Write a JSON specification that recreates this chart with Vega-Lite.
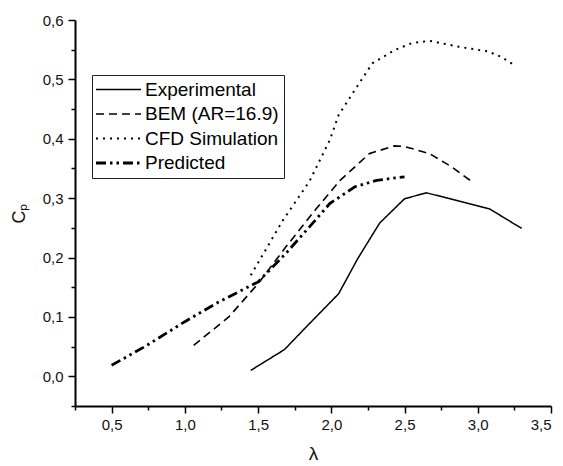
{
  "$schema": "https://vega.github.io/schema/vega-lite/v6.json",
  "width": 476,
  "height": 386,
  "autosize": {"type": "none"},
  "padding": {"left": 75, "top": 20, "right": 12, "bottom": 60},
  "background": "white",
  "config": {
    "view": {"stroke": null},
    "font": "Liberation Sans",
    "legend": {
      "orient": "none",
      "legendX": 17,
      "legendY": 55,
      "symbolType": "M-4.5,0H4.5",
      "symbolSize": 100,
      "symbolOffset": 12,
      "symbolStrokeColor": "black",
      "symbolFillColor": "transparent",
      "labelFontSize": 19,
      "labelFont": "Liberation Sans",
      "labelColor": "black",
      "strokeColor": "#222",
      "padding": 5,
      "rowPadding": 4.5,
      "labelOffset": 17,
      "labelLimit": 300
    }
  },
  "data": {
    "values": [
      {"series": "Experimental", "lambda": 1.45, "cp": 0.010},
      {"series": "Experimental", "lambda": 1.68, "cp": 0.045},
      {"series": "Experimental", "lambda": 1.84, "cp": 0.086},
      {"series": "Experimental", "lambda": 2.05, "cp": 0.139},
      {"series": "Experimental", "lambda": 2.18, "cp": 0.198},
      {"series": "Experimental", "lambda": 2.33, "cp": 0.258},
      {"series": "Experimental", "lambda": 2.50, "cp": 0.299},
      {"series": "Experimental", "lambda": 2.65, "cp": 0.309},
      {"series": "Experimental", "lambda": 3.08, "cp": 0.282},
      {"series": "Experimental", "lambda": 3.30, "cp": 0.249},
      {"series": "BEM (AR=16.9)", "lambda": 1.06, "cp": 0.052},
      {"series": "BEM (AR=16.9)", "lambda": 1.30, "cp": 0.100},
      {"series": "BEM (AR=16.9)", "lambda": 1.50, "cp": 0.156},
      {"series": "BEM (AR=16.9)", "lambda": 1.69, "cp": 0.218},
      {"series": "BEM (AR=16.9)", "lambda": 1.89, "cp": 0.280},
      {"series": "BEM (AR=16.9)", "lambda": 2.06, "cp": 0.330},
      {"series": "BEM (AR=16.9)", "lambda": 2.26, "cp": 0.375},
      {"series": "BEM (AR=16.9)", "lambda": 2.43, "cp": 0.388},
      {"series": "BEM (AR=16.9)", "lambda": 2.50, "cp": 0.387},
      {"series": "BEM (AR=16.9)", "lambda": 2.67, "cp": 0.375},
      {"series": "BEM (AR=16.9)", "lambda": 2.82, "cp": 0.353},
      {"series": "BEM (AR=16.9)", "lambda": 2.97, "cp": 0.326},
      {"series": "CFD Simulation", "lambda": 1.45, "cp": 0.170},
      {"series": "CFD Simulation", "lambda": 1.67, "cp": 0.263},
      {"series": "CFD Simulation", "lambda": 1.85, "cp": 0.328},
      {"series": "CFD Simulation", "lambda": 1.99, "cp": 0.398},
      {"series": "CFD Simulation", "lambda": 2.05, "cp": 0.440},
      {"series": "CFD Simulation", "lambda": 2.16, "cp": 0.482},
      {"series": "CFD Simulation", "lambda": 2.28, "cp": 0.527},
      {"series": "CFD Simulation", "lambda": 2.43, "cp": 0.549},
      {"series": "CFD Simulation", "lambda": 2.55, "cp": 0.561},
      {"series": "CFD Simulation", "lambda": 2.67, "cp": 0.565},
      {"series": "CFD Simulation", "lambda": 2.87, "cp": 0.555},
      {"series": "CFD Simulation", "lambda": 3.07, "cp": 0.547},
      {"series": "CFD Simulation", "lambda": 3.16, "cp": 0.538},
      {"series": "CFD Simulation", "lambda": 3.25, "cp": 0.524},
      {"series": "Predicted", "lambda": 0.50, "cp": 0.0185},
      {"series": "Predicted", "lambda": 0.74, "cp": 0.052},
      {"series": "Predicted", "lambda": 1.00, "cp": 0.092},
      {"series": "Predicted", "lambda": 1.23, "cp": 0.125},
      {"series": "Predicted", "lambda": 1.50, "cp": 0.159},
      {"series": "Predicted", "lambda": 1.69, "cp": 0.207},
      {"series": "Predicted", "lambda": 1.87, "cp": 0.257},
      {"series": "Predicted", "lambda": 1.99, "cp": 0.291},
      {"series": "Predicted", "lambda": 2.16, "cp": 0.319},
      {"series": "Predicted", "lambda": 2.31, "cp": 0.330},
      {"series": "Predicted", "lambda": 2.50, "cp": 0.336}
    ]
  },
  "mark": {"type": "line", "color": "black", "strokeCap": "butt", "strokeJoin": "round"},
  "encoding": {
    "x": {
      "field": "lambda",
      "type": "quantitative",
      "scale": {"domain": [0.25, 3.5], "nice": false, "zero": false},
      "axis": {
        "values": [0.25, 0.5, 0.75, 1.0, 1.25, 1.5, 1.75, 2.0, 2.25, 2.5, 2.75, 3.0, 3.25, 3.5],
        "labelExpr": "abs(datum.value*2 - round(datum.value*2)) > 0.01 ? '' : replace(format(datum.value, '.1f'), '.', ',')",
        "tickSize": {"condition": {"test": "abs(datum.value*2 - round(datum.value*2)) > 0.01", "value": 4}, "value": 7},
        "grid": false,
        "labelOverlap": false,
        "domainColor": "black",
        "domainWidth": 2,
        "tickColor": "black",
        "tickWidth": 1.5,
        "labelFontSize": 15,
        "labelColor": "#111",
        "labelPadding": 4,
        "title": "λ",
        "titleFontSize": 19,
        "titleFontWeight": "normal",
        "titleColor": "#111",
        "titlePadding": 12
      }
    },
    "y": {
      "field": "cp",
      "type": "quantitative",
      "scale": {"domain": [-0.05, 0.6], "nice": false, "zero": false},
      "axis": {
        "values": [-0.05, 0, 0.05, 0.1, 0.15, 0.2, 0.25, 0.3, 0.35, 0.4, 0.45, 0.5, 0.55, 0.6],
        "labelExpr": "abs(datum.value*10 - round(datum.value*10)) > 0.01 ? '' : replace(format(datum.value, '.1f'), '.', ',')",
        "tickSize": {"condition": {"test": "abs(datum.value*10 - round(datum.value*10)) > 0.01", "value": 4}, "value": 7},
        "grid": false,
        "labelOverlap": false,
        "domainColor": "black",
        "domainWidth": 2,
        "tickColor": "black",
        "tickWidth": 1.5,
        "labelFontSize": 15,
        "labelColor": "#111",
        "labelPadding": 5,
        "title": "Cₚ",
        "titleFontSize": 18,
        "titleFontWeight": "normal",
        "titleColor": "#111",
        "titlePadding": 14
      }
    },
    "strokeDash": {
      "field": "series",
      "type": "nominal",
      "scale": {
        "domain": ["Experimental", "BEM (AR=16.9)", "CFD Simulation", "Predicted"],
        "range": [[1, 0], [8, 5], [2, 5], [10, 4, 2.5, 4, 2.5, 4]]
      },
      "legend": {"title": null}
    },
    "strokeWidth": {
      "field": "series",
      "type": "nominal",
      "scale": {
        "type": "ordinal",
        "domain": ["Experimental", "BEM (AR=16.9)", "CFD Simulation", "Predicted"],
        "range": [1.5, 1.6, 2, 2.8]
      },
      "legend": {"title": null}
    }
  }
}
